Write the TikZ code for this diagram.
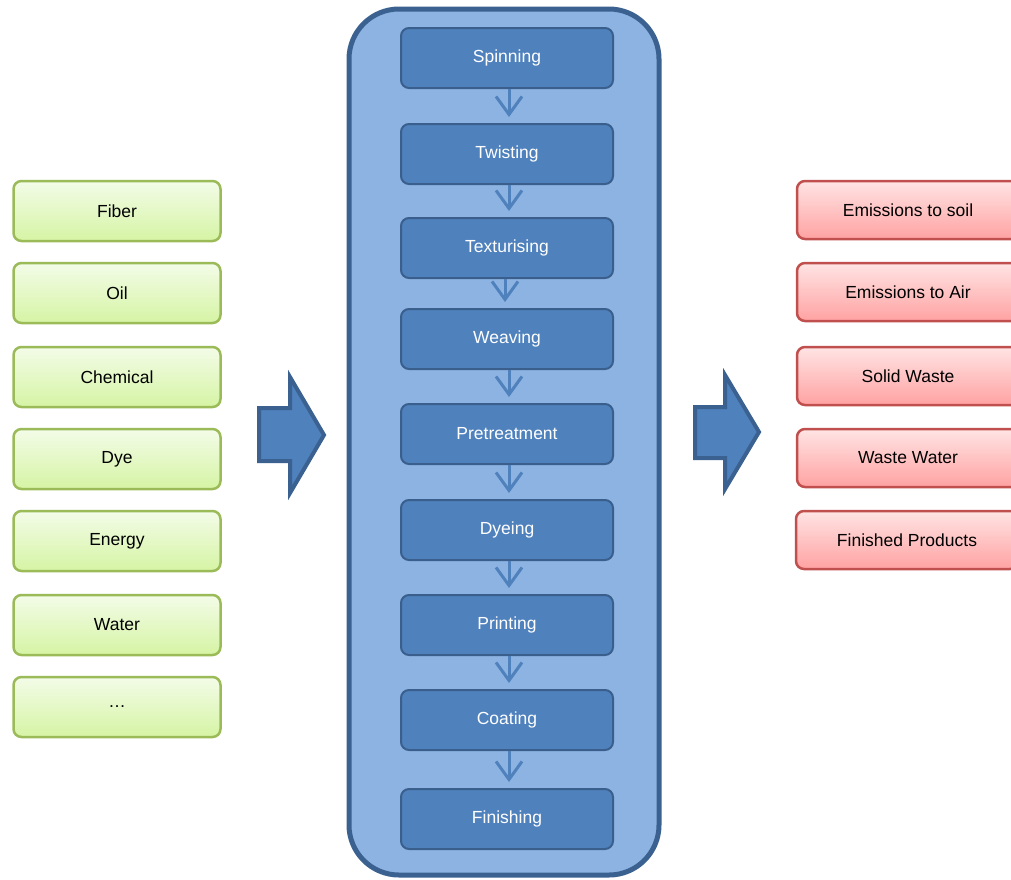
\documentclass[tikz,border=0pt]{standalone}
\usepackage{fontspec}
\setmainfont{Liberation Sans}
\usetikzlibrary{arrows.meta}

\definecolor{inborder}{HTML}{9BBB59}
\definecolor{intop}{HTML}{F3FCE8}
\definecolor{inbottom}{HTML}{D5F4A4}
\definecolor{outborder}{HTML}{C0504D}
\definecolor{outtop}{HTML}{FFE4E4}
\definecolor{outbottom}{HTML}{FFA2A2}
\definecolor{stepfill}{HTML}{4F81BD}
\definecolor{stepborder}{HTML}{3A5F8C}
\definecolor{millfill}{HTML}{8DB3E2}
\definecolor{millborder}{HTML}{3B6190}

\begin{document}
\begin{tikzpicture}[x=1pt,y=-1pt,font=\fontsize{17.5}{20}\selectfont]
    \tikzstyle{inbox}=[rectangle,rounded corners=8pt,draw=inborder,line width=2.5pt,top color=intop,bottom color=inbottom,minimum width=207pt,minimum height=60pt]
    \tikzstyle{outbox}=[rectangle,rounded corners=8pt,draw=outborder,line width=2.5pt,top color=outtop,bottom color=outbottom,minimum width=222pt,minimum height=58pt]
    \tikzstyle{stepbox}=[rectangle,rounded corners=8pt,draw=stepborder,line width=2pt,fill=stepfill,text=white,minimum width=212pt,minimum height=60pt]
    \tikzstyle{flow}=[draw=stepfill,line width=3pt,-{Straight Barb[length=18pt,width=26pt]},shorten >=6pt]
    \tikzstyle{bigarrow}=[fill=stepfill,draw=millborder,line width=4pt,line join=miter]
    \clip (0,0) rectangle (1011,879);
    \useasboundingbox (0,0) rectangle (1011,879);
    % mill
    \draw[fill=millfill,draw=millborder,line width=5pt,rounded corners=50pt] (349,9) rectangle (659,875);
    % inputs
    \node[inbox] (fiber) at (117,211) {Fiber};
    \node[inbox] (oil) at (117,293) {Oil};
    \node[inbox] (chemical) at (117,377) {Chemical};
    \node[inbox] (dye) at (117,459) {Dye};
    \node[inbox] (energy) at (117,541) {Energy};
    \node[inbox] (water) at (117,625) {Water};
    \node[inbox] (more) at (117,707) {\dots};
    % process steps
    \node[stepbox] (spinning) at (507,58) {Spinning};
    \node[stepbox] (twisting) at (507,154) {Twisting};
    \node[stepbox] (texturising) at (507,248) {Texturising};
    \node[stepbox] (weaving) at (507,339) {Weaving};
    \node[stepbox] (pretreatment) at (507,434) {Pretreatment};
    \node[stepbox] (dyeing) at (507,530) {Dyeing};
    \node[stepbox] (printing) at (507,625) {Printing};
    \node[stepbox] (coating) at (507,720) {Coating};
    \node[stepbox] (finishing) at (507,819) {Finishing};
    \draw[flow] ([xshift=2pt]spinning.south) -- ([xshift=2pt]twisting.north);
    \draw[flow] ([xshift=2pt]twisting.south) -- ([xshift=2pt]texturising.north);
    \draw[flow] ([xshift=-2pt]texturising.south) -- ([xshift=-2pt]weaving.north);
    \draw[flow] ([xshift=2pt]weaving.south) -- ([xshift=2pt]pretreatment.north);
    \draw[flow] ([xshift=2pt]pretreatment.south) -- ([xshift=2pt]dyeing.north);
    \draw[flow] ([xshift=2pt]dyeing.south) -- ([xshift=2pt]printing.north);
    \draw[flow] ([xshift=2pt]printing.south) -- ([xshift=2pt]coating.north);
    \draw[flow] ([xshift=2pt]coating.south) -- ([xshift=2pt]finishing.north);
    % outputs
    \node[outbox] (soil) at (908,210) {Emissions to soil};
    \node[outbox] (air) at (908,292) {Emissions to Air};
    \node[outbox] (solid) at (908,376) {Solid Waste};
    \node[outbox] (wastewater) at (908,458) {Waste Water};
    \node[outbox] (products) at (907,540) {Finished Products};
    % big arrows
    \draw[bigarrow] (259,408) -- (290,408) -- (290,377) -- (324,435) -- (290,493) -- (290,461) -- (259,461) -- cycle;
    \draw[bigarrow] (695,407) -- (725,407) -- (725,375) -- (759,432) -- (725,489) -- (725,458) -- (695,458) -- cycle;
\end{tikzpicture}
\end{document}
